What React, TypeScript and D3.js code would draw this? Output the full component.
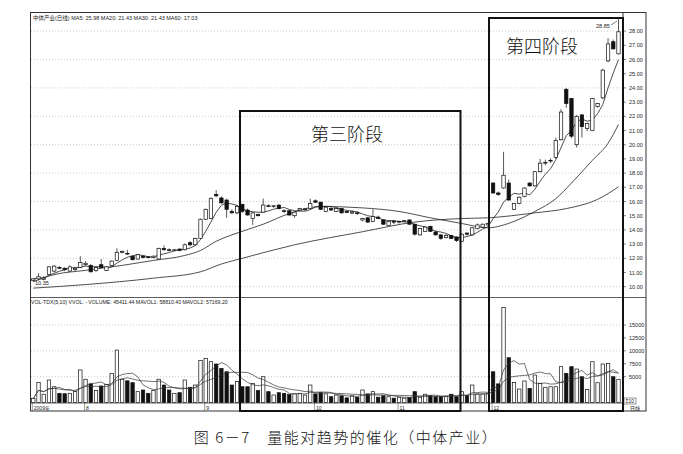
import React from 'react';
import * as d3 from 'd3';

// ---- data ----
const opens = [
  10.45, 10.55, 10.5, 10.85, 11.1, 11.35, 11.3, 11.1, 11.2, 11.35,
  11.55, 11.5, 11.15, 11.55, 11.15, 11.5, 11.85, 12.42, 12.35, 12.15,
  11.95, 12.15, 12.1, 12.05, 11.95, 12.7, 12.6, 12.55, 12.65, 12.6,
  13.1, 12.95, 13.4, 14.75, 14.8, 16.5, 16.25, 16.1, 15.3, 15.2,
  15.8, 15.4, 14.8, 15.08, 15.25, 15.7, 15.65, 15.75, 15.35, 15.35,
  15.0, 15.4, 15.42, 15.5, 16.05, 15.95, 15.3, 15.5, 15.3, 15.5,
  15.3, 15.18, 15.2, 14.7, 14.85, 14.6, 14.9, 14.7, 14.3, 14.6,
  14.55, 14.6, 14.7, 14.4, 13.65, 13.9, 14.25, 13.85, 13.65, 13.45,
  13.6, 13.5,
  13.2, 13.78, 13.65, 14.1, 14.2, 14.35,
  17.3, 16.6, 16.95, 17.3, 15.45, 15.85, 16.35, 17.3, 17.1, 18.1,
  18.7, 18.85, 19.1, 20.35, 23.9, 23.25, 20.0, 22.1, 21.15, 21.0,
  22.7, 23.3, 25.9, 27.25, 26.4,
];
const highs = [
  10.6, 10.95, 10.75, 11.45, 11.5, 11.45, 11.35, 11.5, 11.4, 12.15,
  11.8, 11.6, 11.4, 11.95, 11.45, 11.85, 12.7, 12.55, 12.6, 12.2,
  12.3, 12.2, 12.15, 12.2, 12.75, 12.9, 12.7, 12.65, 12.7, 13.05,
  13.2, 13.45, 14.8, 15.5, 16.3, 16.8, 16.35, 16.2, 15.45, 15.75,
  15.85, 15.5, 15.25, 15.15, 16.2, 15.8, 15.75, 15.8, 15.45, 15.4,
  15.3, 15.55, 15.55, 16.2, 16.15, 16.0, 15.65, 15.6, 15.55, 15.55,
  15.35, 15.4, 15.3, 14.85, 14.9, 15.45, 15.0, 14.75, 14.65, 14.7,
  14.65, 14.7, 14.75, 14.45, 14.15, 14.25, 14.3, 13.95, 13.7, 13.7,
  13.65, 13.55,
  13.75, 13.8, 14.2, 14.45, 14.45, 14.5,
  17.35, 16.7, 19.5, 17.55, 15.9, 16.35, 17.0, 17.35, 18.15, 19.0,
  18.95, 19.05, 20.5, 22.5, 24.0, 23.3, 22.1, 22.15, 21.55, 23.3,
  22.95, 25.35, 27.5, 27.4, 28.85,
];
const lows = [
  10.35, 10.45, 10.45, 10.8, 11.0, 11.25, 11.1, 11.05, 11.1, 11.3,
  11.45, 11.0, 11.05, 11.3, 11.1, 11.45, 11.8, 12.35, 12.25, 11.85,
  11.9, 12.0, 12.0, 12.0, 11.9, 12.55, 12.5, 12.5, 12.5, 12.55,
  12.85, 12.9, 13.35, 14.7, 14.75, 16.3, 15.85, 14.85, 15.15, 15.1,
  15.2, 15.0, 14.35, 14.95, 15.2, 15.6, 15.55, 15.45, 15.2, 15.0,
  14.85, 15.35, 15.35, 15.45, 15.9, 15.4, 15.25, 15.35, 15.25, 15.15,
  15.2, 15.1, 15.05, 14.6, 14.5, 14.55, 14.75, 14.35, 14.25, 14.4,
  14.45, 14.55, 14.35, 13.6, 13.6, 13.85, 13.85, 13.6, 13.3, 13.4,
  13.35, 13.15,
  13.15, 13.6, 13.6, 14.05, 14.15, 14.3,
  16.55, 16.4, 16.9, 16.1, 15.4, 15.8, 16.3, 17.05, 17.05, 18.05,
  18.55, 18.7, 19.0, 20.3, 22.6, 20.45, 19.8, 20.5, 20.95, 20.95,
  22.6, 23.2, 25.8, 26.7, 26.35,
];
const closes = [
  10.55, 10.7, 10.6, 11.4, 11.45, 11.3, 11.2, 11.4, 11.3, 11.7,
  11.65, 11.05, 11.35, 11.35, 11.4, 11.8, 12.4, 12.47, 12.3, 11.9,
  12.25, 12.05, 12.05, 12.15, 12.7, 12.6, 12.55, 12.6, 12.55, 12.95,
  12.95, 13.4, 14.75, 15.45, 16.2, 16.4, 15.9, 15.45, 15.2, 15.65,
  15.3, 15.05, 15.2, 15.0, 15.75, 15.65, 15.7, 15.5, 15.3, 15.05,
  15.25, 15.5, 15.48, 15.85, 15.95, 15.45, 15.6, 15.4, 15.5, 15.2,
  15.22, 15.26, 15.15, 14.8, 14.55, 14.95, 14.8, 14.4, 14.6, 14.55,
  14.6, 14.65, 14.4, 13.7, 14.1, 14.2, 13.9, 13.65, 13.4, 13.6,
  13.4, 13.25,
  13.7, 13.7, 14.15, 14.35, 14.4, 14.45,
  16.6, 16.5, 17.85, 16.1, 15.85, 16.3, 16.95, 17.1, 18.1, 18.7,
  18.75, 18.9, 20.3, 22.3, 22.9, 20.6, 22.0, 21.27, 21.5, 23.25,
  22.9, 25.25, 27.1, 26.75, 27.95,
];
const volumes = [
  810, 3900, 1600, 4350, 3050, 1780, 1700, 1780, 2100, 6300,
  4500, 3600, 2300, 3200, 3500, 5650, 10150, 4500, 4200, 3830,
  2100, 2420, 1780, 2300, 4500, 3380, 2420, 1780, 1900, 4350,
  2950, 3380, 8100, 8550, 7900, 7450, 6600, 5950, 3380, 4050,
  3050, 3050, 3700, 2300, 4990, 2100, 1450, 1900, 1780, 1550,
  1670, 1780, 1450, 3380, 1670, 1900, 1670, 1120, 1450, 1300,
  900, 1300, 1030, 2420, 1670, 2100, 1030, 1300, 1120, 840,
  1030, 840, 970, 2100, 1030, 1600, 1300, 1120, 1120, 1120,
  1600, 1120,
  2100, 1300, 3380, 1670, 1670, 1780,
  5950, 3600, 18400, 8670, 3900, 2610, 4160, 2740, 5320, 3700,
  2950, 3050, 3050, 6930, 5650, 6930, 6480, 4990, 2540, 7900,
  3830, 7450, 7580, 4990, 4490,
];

// slow moving averages at sample candles
const ma20Index = [0, 4, 10, 17, 23, 29, 32, 35, 38, 44, 49, 55, 63, 70, 76, 82, 87, 92, 96, 100, 103, 107, 110, 112];
const ma20Values = [10.35, 10.85, 11.15, 11.5, 11.85, 12.2, 12.55, 13.2, 13.65, 14.4, 15.15, 15.65, 15.55, 15.3, 14.85, 14.45, 14.15, 14.6, 15.3, 16.2, 17.3, 18.9, 20.1, 21.43];
const ma60Index = [0, 10, 23, 32, 36, 40, 50, 63, 73, 82, 87, 96, 102, 108, 112];
const ma60Values = [9.9, 10.15, 10.6, 11.05, 11.6, 12.0, 12.95, 13.87, 14.55, 14.8, 14.85, 15.2, 15.5, 16.15, 17.03];

const priceTicks = [10, 11, 12, 13, 14, 15, 16, 17, 18, 19, 20, 21, 22, 23, 24, 25, 26, 27, 28];
const priceGrid = [10, 12, 14, 16, 18, 20, 22, 24, 26, 28];
const volumeTicks = [5000, 7500, 10000, 12500, 15000];
const volumeGrid = [5000, 10000, 15000];
const monthLabels = ['2009年', '8', '9', '10', '11', '12'];
const monthIndex = [0, 10, 33, 54, 70, 88];

const headerText = '中体产业(日线) MA5: 25.98  MA20: 21.43  MA30: 21.43  MA60: 17.03';
const volHeaderText = 'VOL-TDX(5,10) VVOL: -   VOLUME: 45411.44  MAVOL1: 58810.40  MAVOL2: 57169.20';
const stage3 = '第三阶段';
const stage4 = '第四阶段';
const caption = '图 6－7　量能对趋势的催化（中体产业）';

export default function App() {
  const n = closes.length;
  const x = d3.scaleLinear().domain([0, n - 1]).range([33.3, 618.5]);
  const y = d3.scaleLinear().domain([10, 28]).range([286.7, 31.1]);
  const yv = d3.scaleLinear().domain([0, 15000]).range([402.5, 325]);

  const ma5 = closes.map((_, i) => d3.mean(closes.slice(Math.max(0, i - 4), i + 1)) as number);
  const mavol5 = volumes.map((_, i) => d3.mean(volumes.slice(Math.max(0, i - 4), i + 1)) as number);
  const mavol10 = volumes.map((_, i) => d3.mean(volumes.slice(Math.max(0, i - 9), i + 1)) as number);

  const pLine = d3.line<number>().x((_, i) => x(i)).y((d) => y(d));
  const sampLine = (idx: number[], vals: number[]) =>
    d3.line<number>().x((_, k) => x(idx[k])).y((d) => y(d)).curve(d3.curveMonotoneX)(vals) || '';
  const vLine = d3.line<number>().x((_, i) => x(i)).y((d) => yv(d));

  const bw = 3.4;
  const small = { fontFamily: 'Liberation Sans, Arial, sans-serif', fontSize: 5.5 };
  const cjk = 'Noto Sans CJK SC, sans-serif';

  return (
    <svg width={683} height={454} style={{ position: 'absolute', left: 0, top: 0, background: '#fff' }}>
      <rect x={0} y={0} width={683} height={454} fill="#fff" />
      {/* frames */}
      <rect x={30.5} y={12.5} width={615.5} height={398.5} fill="none" stroke="#333" strokeWidth={1} />
      <line x1={623} x2={623} y1={12.5} y2={411} stroke="#333" strokeWidth={1} />
      <line x1={30.5} x2={646} y1={297.5} y2={297.5} stroke="#333" strokeWidth={0.8} />
      <line x1={30.5} x2={623} y1={403} y2={403} stroke="#333" strokeWidth={0.8} />

      {/* price grid */}
      {priceGrid.map((p) => (
        <line key={'pg' + p} x1={31} x2={623} y1={y(p)} y2={y(p)} stroke="#aaa" strokeWidth={0.6} strokeDasharray="1,2" />
      ))}
      {priceTicks.map((p) => (
        <g key={'pt' + p}>
          <line x1={623} x2={626} y1={y(p)} y2={y(p)} stroke="#333" strokeWidth={0.6} />
          <text x={629} y={y(p) + 2} style={small} fill="#222">{p.toFixed(2)}</text>
        </g>
      ))}

      {/* volume grid */}
      {volumeGrid.map((v) => (
        <line key={'vg' + v} x1={31} x2={623} y1={yv(v)} y2={yv(v)} stroke="#aaa" strokeWidth={0.6} strokeDasharray="1,2" />
      ))}
      {volumeTicks.map((v) => (
        <g key={'vt' + v}>
          <line x1={623} x2={626} y1={yv(v)} y2={yv(v)} stroke="#333" strokeWidth={0.6} />
          <text x={629} y={yv(v) + 2} style={small} fill="#222">{v}</text>
        </g>
      ))}

      {/* headers */}
      <text x={33} y={20} style={{ ...small, fontFamily: 'Liberation Sans, ' + cjk }} fill="#222">{headerText}</text>
      <text x={31} y={303.5} style={{ ...small, fontSize: 5.2 }} fill="#222">{volHeaderText}</text>

      {/* moving averages */}
      <path d={sampLine(ma60Index, ma60Values)} fill="none" stroke="#222" strokeWidth={0.8} />
      <path d={sampLine(ma20Index, ma20Values)} fill="none" stroke="#222" strokeWidth={0.8} />
      <path d={pLine(ma5) || ''} fill="none" stroke="#222" strokeWidth={0.8} />

      {/* candles */}
      {closes.map((c, i) => {
        const o = opens[i];
        const up = c >= o;
        const top = y(Math.max(o, c));
        const h = Math.max(Math.abs(y(o) - y(c)), 0.7);
        return (
          <g key={'c' + i}>
            <line x1={x(i)} x2={x(i)} y1={y(highs[i])} y2={y(lows[i])} stroke="#111" strokeWidth={0.7} />
            <rect x={x(i) - bw / 2} y={top} width={bw} height={h} fill={up ? '#fff' : '#111'} stroke="#111" strokeWidth={0.7} />
          </g>
        );
      })}

      {/* volume bars */}
      {volumes.map((v, i) => {
        const up = closes[i] >= opens[i];
        return (
          <rect key={'v' + i} x={x(i) - bw / 2} y={yv(v)} width={bw} height={yv(0) - yv(v)} fill={up ? '#fff' : '#111'} stroke="#111" strokeWidth={0.7} />
        );
      })}
      <path d={vLine(mavol10) || ''} fill="none" stroke="#333" strokeWidth={0.7} />
      <path d={vLine(mavol5) || ''} fill="none" stroke="#333" strokeWidth={0.7} />

      {/* extreme labels */}
      <text x={596} y={28} style={small} fill="#222">28.85</text>
      <line x1={611} x2={617} y1={25} y2={21} stroke="#222" strokeWidth={0.6} />
      <text x={35} y={285} style={small} fill="#222">10.35</text>

      {/* x axis strip */}
      {monthLabels.map((m, k) => (
        <g key={'m' + k}>
          <line x1={x(monthIndex[k]) - 1} x2={x(monthIndex[k]) - 1} y1={403} y2={411} stroke="#333" strokeWidth={0.5} />
          <text x={x(monthIndex[k]) + 0.5} y={409.5} style={{ ...small, fontSize: 5, fontFamily: 'Liberation Sans, ' + cjk }} fill="#222">{m}</text>
        </g>
      ))}
      <rect x={624} y={398} width={12} height={6} fill="#fff" stroke="#333" strokeWidth={0.5} />
      <text x={625.5} y={403} style={{ ...small, fontSize: 5 }} fill="#222">Σ10</text>
      <text x={630} y={410} style={{ ...small, fontSize: 5, fontFamily: cjk }} fill="#222">日线</text>

      {/* stage boxes */}
      <rect x={240} y={111} width={220.5} height={300} fill="none" stroke="#111" strokeWidth={2} />
      <rect x={489} y={18} width={134} height={393} fill="none" stroke="#111" strokeWidth={2} />
      <text x={347} y={141} textAnchor="middle" style={{ fontFamily: cjk, fontSize: 18, fontWeight: 300 }} fill="#111">{stage3}</text>
      <text x={542} y={53} textAnchor="middle" style={{ fontFamily: cjk, fontSize: 18, fontWeight: 300 }} fill="#111">{stage4}</text>

      {/* caption */}
      <text x={346} y={443} textAnchor="middle" style={{ fontFamily: cjk, fontSize: 15, letterSpacing: 1.5, fontWeight: 300 }} fill="#111">{caption}</text>
    </svg>
  );
}
